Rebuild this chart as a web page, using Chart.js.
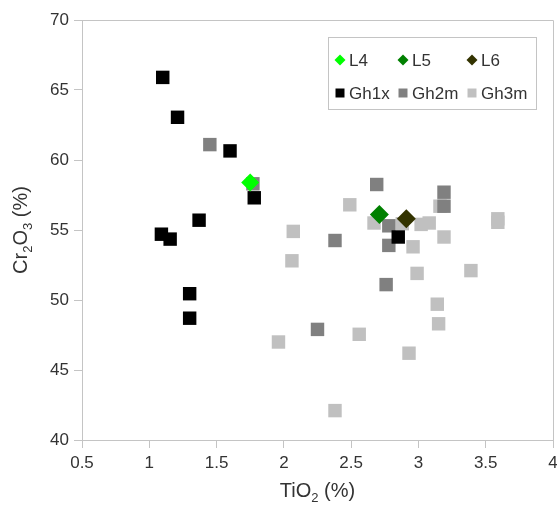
<!DOCTYPE html>
<html>
<head>
<meta charset="utf-8">
<script src="https://cdn.jsdelivr.net/npm/chart.js@4/dist/chart.umd.min.js"></script>
<style>
  html, body { margin: 0; padding: 0; background: #fff; }
  #wrap { width: 557px; height: 506px; }
</style>
</head>
<body>
<div id="wrap"><canvas id="chart" width="557" height="506"></canvas></div>
<script>
// series names
const seriesNames = ["L4", "L5", "L6", "Gh1x", "Gh2m", "Gh3m"];

// TiO2 (%) / Cr2O3 (%) pairs
const L4 = [[1.75, 58.4]];
const L5 = [[2.71, 56.1]];
const L6 = [[2.91, 55.8]];
const Gh1x = [
  [1.10, 65.9], [1.21, 63.05], [1.60, 60.65], [1.78, 57.3], [1.37, 55.7],
  [1.09, 54.7], [1.155, 54.35], [1.30, 50.45], [1.30, 48.7], [2.85, 54.5]
];
const Gh2m = [
  [1.45, 61.1], [1.77, 58.3], [2.69, 58.25], [3.19, 57.7], [3.19, 56.7],
  [2.38, 54.25], [2.78, 55.3], [2.78, 53.9], [2.76, 51.1], [2.25, 47.9]
];
const Gh3m = [
  [2.49, 56.8], [2.07, 54.9], [2.06, 52.8], [2.67, 55.5], [2.88, 55.45],
  [3.02, 55.4], [3.08, 55.5], [3.16, 56.7], [3.19, 54.5], [2.96, 53.8],
  [2.99, 51.9], [3.39, 52.1], [3.59, 55.8], [3.59, 55.55], [3.14, 49.7],
  [3.15, 48.3], [1.96, 47.0], [2.56, 47.55], [2.93, 46.2], [2.38, 42.1]
];

// axis ticks
const xTicks = [0.5, 1, 1.5, 2, 2.5, 3, 3.5, 4];
const yTicks = [40, 45, 50, 55, 60, 65, 70];

const FONT = "'Liberation Sans', Arial, sans-serif";
const TEXT = "#333333";
const LINE = "#c4c4c4";

const series = [L4, L5, L6, Gh1x, Gh2m, Gh3m];
const colors = ["#00ff00", "#008000", "#333300", "#000000", "#808080", "#c0c0c0"];
const styles = ["rectRot", "rectRot", "rectRot", "rect", "rect", "rect"];
const radii = [9, 9.5, 9.5, 9.5, 9.5, 9.5];

const datasets = series.map((pts, i) => ({
  label: seriesNames[i],
  data: pts.map(p => ({ x: p[0], y: p[1] })),
  pointStyle: styles[i],
  pointRadius: radii[i],
  pointHoverRadius: radii[i],
  backgroundColor: colors[i],
  borderColor: colors[i],
  borderWidth: 0
}));

// draws text with subscript parts, centered on (cx, baseline)
function drawParts(ctx, parts, cx, base) {
  const big = "20px " + FONT, small = "13px " + FONT;
  let total = 0;
  parts.forEach(p => { ctx.font = p.sub ? small : big; total += ctx.measureText(p.t).width; });
  let x = cx - total / 2;
  ctx.textAlign = "left";
  ctx.textBaseline = "alphabetic";
  parts.forEach(p => {
    ctx.font = p.sub ? small : big;
    ctx.fillText(p.t, x, p.sub ? base + 5 : base);
    x += ctx.measureText(p.t).width;
  });
}

function marker(ctx, style, x, y, r) {
  ctx.beginPath();
  if (style === "rect") {
    ctx.rect(x - r, y - r, 2 * r, 2 * r);
  } else {
    ctx.moveTo(x, y - r); ctx.lineTo(x + r, y); ctx.lineTo(x, y + r); ctx.lineTo(x - r, y);
    ctx.closePath();
  }
  ctx.fill();
}

const decor = {
  id: "decor",
  beforeDatasetsDraw(chart) {
    const ctx = chart.ctx, a = chart.chartArea;
    ctx.save();
    ctx.strokeStyle = LINE;
    ctx.lineWidth = 1;
    ctx.beginPath();
    ctx.moveTo(a.left, a.top + 0.5); ctx.lineTo(a.right + 0.5, a.top + 0.5);
    ctx.lineTo(a.right + 0.5, a.bottom);
    ctx.stroke();
    ctx.restore();
  },
  afterDraw(chart) {
    const ctx = chart.ctx, a = chart.chartArea;
    const xs = chart.scales.x;
    ctx.save();
    ctx.fillStyle = TEXT;
    // x tick labels (drawn here so they may run past the right edge like the original)
    ctx.font = "17px " + FONT;
    ctx.textAlign = "center";
    ctx.textBaseline = "top";
    xTicks.forEach(v => ctx.fillText(String(v), xs.getPixelForValue(v), a.bottom + 15));

    drawParts(ctx, [{ t: "TiO" }, { t: "2", sub: true }, { t: " (%)" }], (a.left + a.right) / 2, 497);
    ctx.translate(27, (a.top + a.bottom) / 2);
    ctx.rotate(-Math.PI / 2);
    drawParts(ctx, [{ t: "Cr" }, { t: "2", sub: true }, { t: "O" }, { t: "3", sub: true }, { t: " (%)" }], 0, 0);
    ctx.restore();

    // legend box
    ctx.save();
    ctx.fillStyle = "#fff";
    ctx.fillRect(328, 37, 209, 73);
    ctx.strokeStyle = LINE;
    ctx.strokeRect(328.5, 37.5, 208, 72);
    const colX = [340, 403, 472], rowY = [60, 93];
    chart.data.datasets.forEach((ds, i) => {
      const x = colX[i % 3], y = rowY[Math.floor(i / 3)];
      ctx.fillStyle = ds.backgroundColor;
      marker(ctx, ds.pointStyle, x, y, ds.pointStyle === "rect" ? 4.5 : 5.5);
      ctx.fillStyle = TEXT;
      ctx.font = "17px " + FONT;
      ctx.textAlign = "left";
      ctx.textBaseline = "middle";
      ctx.fillText(ds.label, x + 9, y + 1);
    });
    ctx.restore();
  }
};

new Chart(document.getElementById("chart"), {
  type: "scatter",
  data: { datasets: datasets },
  options: {
    responsive: false,
    animation: false,
    layout: { autoPadding: false, padding: { top: 20, right: 4, left: 0, bottom: 0 } },
    plugins: { legend: { display: false }, tooltip: { enabled: false } },
    scales: {
      x: {
        type: "linear",
        min: xTicks[0],
        max: xTicks[xTicks.length - 1],
        afterBuildTicks: s => { s.ticks = xTicks.map(v => ({ value: v })); },
        afterFit: s => { s.height = 66; },
        ticks: { display: false },
        grid: { drawOnChartArea: false, drawTicks: true, tickLength: 8, color: LINE },
        border: { color: LINE }
      },
      y: {
        type: "linear",
        min: yTicks[0],
        max: yTicks[yTicks.length - 1],
        afterBuildTicks: s => { s.ticks = yTicks.map(v => ({ value: v })); },
        afterFit: s => { s.width = 82; },
        ticks: { color: TEXT, font: { family: FONT, size: 17 }, padding: 5, callback: v => String(v) },
        grid: { drawOnChartArea: false, tickLength: 8, color: LINE },
        border: { color: LINE }
      }
    }
  },
  plugins: [decor]
});
</script>
</body>
</html>
